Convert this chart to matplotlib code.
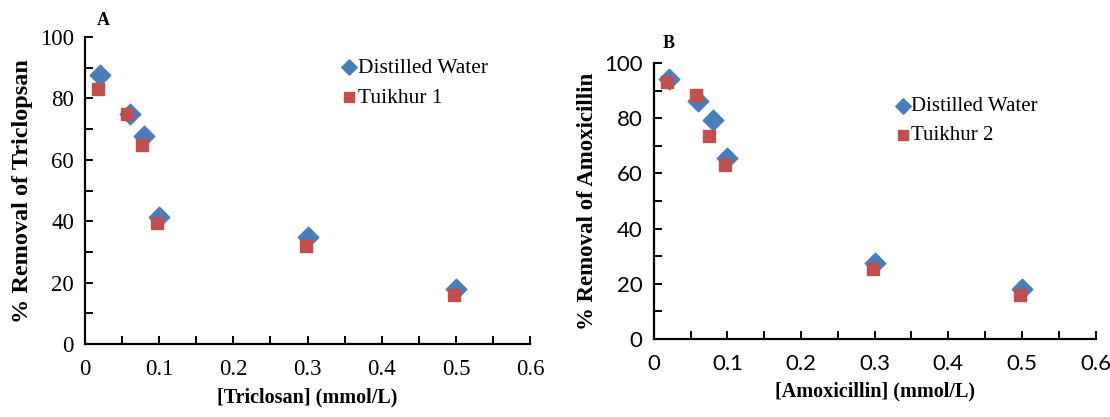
import matplotlib.pyplot as plt
from matplotlib.ticker import MultipleLocator

# Panel A: triclosan
conc_a_dw = [0.02, 0.06, 0.08, 0.10, 0.30, 0.50]
rem_a_dw = [87.5, 75.0, 67.8, 41.5, 34.8, 17.8]
conc_a_tk = [0.018, 0.057, 0.077, 0.097, 0.298, 0.498]
rem_a_tk = [83.2, 75.0, 65.0, 39.5, 31.8, 16.0]

# Panel B: amoxicillin
conc_b_dw = [0.02, 0.06, 0.08, 0.10, 0.30, 0.50]
rem_b_dw = [94.3, 86.3, 79.5, 65.5, 27.5, 18.2]
conc_b_tk = [0.018, 0.057, 0.075, 0.097, 0.298, 0.497]
rem_b_tk = [93.1, 88.5, 73.5, 63.2, 25.3, 16.0]

blue = '#4a7ebb'
red = '#c0504d'
serif = 'Liberation Serif'

fig = plt.figure(figsize=(11.1, 4.17), dpi=100)
ax_a = fig.add_axes([0.0766, 0.175, 0.401, 0.736])
ax_b = fig.add_axes([0.589, 0.187, 0.398, 0.662])


def style(ax, tick_font, tick_size):
    ax.set_xlim(0, 0.6)
    ax.set_ylim(0, 100)
    ax.xaxis.set_major_locator(MultipleLocator(0.1))
    ax.xaxis.set_minor_locator(MultipleLocator(0.05))
    ax.yaxis.set_major_locator(MultipleLocator(20))
    ax.yaxis.set_minor_locator(MultipleLocator(10))
    for s in ['top', 'right']:
        ax.spines[s].set_visible(False)
    for s in ['left', 'bottom']:
        ax.spines[s].set_linewidth(1.6)
    ax.tick_params(which='both', direction='in', width=1.4, length=6)
    ax.tick_params(axis='x', which='both', pad=11)
    ax.tick_params(axis='y', which='both', pad=8)
    ax.set_xticks([0, 0.1, 0.2, 0.3, 0.4, 0.5, 0.6])
    ax.set_xticklabels(['0', '0.1', '0.2', '0.3', '0.4', '0.5', '0.6'])
    for lbl in ax.get_xticklabels() + ax.get_yticklabels():
        lbl.set_fontfamily(tick_font)
        lbl.set_fontsize(tick_size)


# Panel A
ax_a.scatter(conc_a_dw, rem_a_dw, marker='D', s=110, color=blue, label='Distilled Water', zorder=2)
ax_a.scatter(conc_a_tk, rem_a_tk, marker='s', s=75, color=red, label='Tuikhur 1', zorder=3)
style(ax_a, serif, 16.5)
ax_a.set_xlabel('[Triclosan] (mmol/L)', fontfamily=serif, fontweight='bold', fontsize=14.5, labelpad=5)
ax_a.set_ylabel('% Removal of Triclopsan', fontfamily=serif, fontweight='bold', fontsize=17.5, labelpad=5)
ax_a.legend(loc='upper left', bbox_to_anchor=(0.526, 0.995), frameon=False,
            prop={'family': serif, 'size': 15.5}, handletextpad=-0.1, labelspacing=0.45,
            markerscale=0.75, handlelength=1.0)
fig.text(0.087, 0.94, 'A', fontfamily=serif, fontweight='bold', fontsize=13)

# Panel B
ax_b.scatter(conc_b_dw, rem_b_dw, marker='D', s=110, color=blue, label='Distilled Water', zorder=2)
ax_b.scatter(conc_b_tk, rem_b_tk, marker='s', s=75, color=red, label='Tuikhur 2', zorder=3)
style(ax_b, 'Lato', 16)
ax_b.set_xlabel('[Amoxicillin] (mmol/L)', fontfamily=serif, fontweight='bold', fontsize=14.5, labelpad=5)
ax_b.set_ylabel('% Removal of Amoxicillin', fontfamily=serif, fontweight='bold', fontsize=16.5, labelpad=4)
ax_b.legend(loc='upper left', bbox_to_anchor=(0.498, 0.945), frameon=False,
            prop={'family': serif, 'size': 15}, handletextpad=-0.1, labelspacing=0.45,
            markerscale=0.75, handlelength=1.0)
fig.text(0.597, 0.885, 'B', fontfamily=serif, fontweight='bold', fontsize=13)

fig.savefig('out.png', dpi=100)
